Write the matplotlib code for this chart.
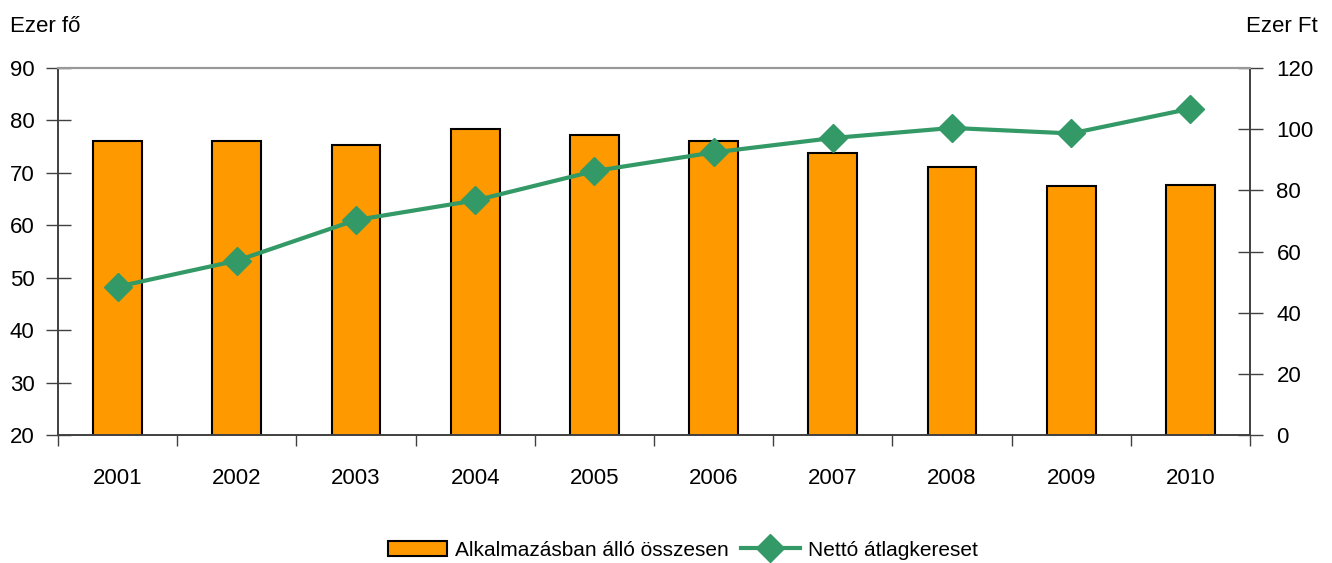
import matplotlib
matplotlib.use("Agg")
import matplotlib.pyplot as plt
import numpy as np

years = ["2001", "2002", "2003", "2004", "2005", "2006", "2007", "2008", "2009", "2010"]
employed = [76.1, 76.1, 75.4, 78.4, 77.3, 76.1, 73.8, 71.1, 67.4, 67.7]
net_wage = [48.5, 57.0, 70.3, 76.7, 86.3, 92.4, 97.1, 100.4, 98.6, 106.7]
left_ticks = [20, 30, 40, 50, 60, 70, 80, 90]
right_ticks = [0, 20, 40, 60, 80, 100, 120]

plt.rcParams['font.family'] = ['Liberation Sans', 'DejaVu Sans']
fs = 16
fs_leg = 15

fig = plt.figure(figsize=(13.32, 5.63), dpi=100)
ax = fig.add_axes([58/1332, 1-435/563, (1250-58)/1332, (435-68)/563])
ax2 = ax.twinx()

x = np.arange(len(years))
bars = ax.bar(x, employed, width=0.41, color='#FF9900', edgecolor='black', linewidth=1.5,
              label='Alkalmazásban álló összesen', zorder=2)
ax.set_ylim(20, 90)
ax.set_xlim(-0.5, len(years)-0.5)
ax.set_yticks(left_ticks)
ax.set_yticklabels([str(t) for t in left_ticks], fontsize=fs)
ax.set_xticks(x)
ax.set_xticklabels(years, fontsize=fs)
ax.tick_params(axis='x', length=0, pad=24)
ax.set_xticks(np.arange(-0.5, len(years)), minor=True)
ax.tick_params(axis='x', which='minor', length=8, direction='out', width=1, color='#404040')
ax.tick_params(axis='y', direction='inout', length=18, width=1, color='#404040', pad=8)

line, = ax2.plot(x, net_wage, color='#339966', lw=3, marker='D', ms=14,
                 markeredgecolor='#339966', label='Nettó átlagkereset', zorder=3)
ax2.set_ylim(0, 120)
ax2.set_yticks(right_ticks)
ax2.set_yticklabels([str(t) for t in right_ticks], fontsize=fs)
ax2.tick_params(axis='y', direction='inout', length=18, width=1, color='#404040', pad=10)

for a in (ax, ax2):
    a.spines['top'].set_color('#999999')
    a.spines['top'].set_linewidth(1.5)
    for s in ('left', 'right', 'bottom'):
        a.spines[s].set_color('#404040')
        a.spines[s].set_linewidth(1.2)

fig.text(10/1332, 1-27/563, 'Ezer fő', fontsize=fs, va='center', ha='left')
fig.text(1318/1332, 1-27/563, 'Ezer Ft', fontsize=fs, va='center', ha='right')

fig.legend(handles=[bars, line], loc='center', bbox_to_anchor=(683/1332, 1-550/563), ncol=2,
           frameon=False, fontsize=fs_leg, handlelength=2.8, columnspacing=0.6, handletextpad=0.4)

fig.savefig('out.png', dpi=100)
